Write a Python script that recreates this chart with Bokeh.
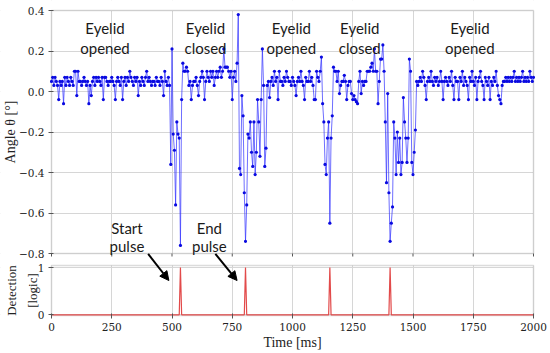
import numpy as np
from bokeh.plotting import figure
from bokeh.models import Range1d, FixedTicker, BoxAnnotation, Arrow, NormalHead, Label
from bokeh.core.properties import value
from bokeh.embed import file_html
from bokeh.resources import INLINE

# ---------------- data ----------------
time_ms = list(range(0, 2001, 5))
angle_deg = [
    0.05, 0.07, 0.03, 0.07, 0.05, 0.03, -0.04, 0.05, 0.03, 0.05, -0.06, 0.07, 0.03, 0.07, 0.05, 0.03, 0.07, 0.05, 0.03, 0.1,
    0.1, -0.02, 0.1, 0.05, 0.05, 0.03, 0.05, 0.07, 0.05, 0.03, 0.05, -0.06, 0.03, -0.02, 0.05, 0.07, 0.03, 0.07, 0.05, 0.07,
    0.05, 0.03, 0.07, -0.04, 0.07, 0.07, 0.05, 0.03, 0.05, 0.05, 0.07, 0.05, 0.03, -0.04, 0.05, 0.07, 0.05, 0.03, 0.07, -0.04,
    0.05, 0.07, 0.03, 0.07, 0.05, 0.1, 0.07, 0.05, 0.03, 0.07, 0.05, 0.07, -0.02, 0.05, 0.03, 0.07, 0.05, 0.03, 0.07, 0.1,
    0.05, 0.07, 0.05, 0.03, 0.05, 0.05, 0.03, 0.07, 0.05, 0.05, 0.03, 0.07, 0.05, -0.02, 0.1, 0.05, 0.03, 0.07, 0.03, -0.36,
    0.21, -0.21, -0.29, -0.56, -0.15, -0.21, -0.23, -0.76, -0.04, 0.14, 0.1, 0.1, 0.12, 0.1, 0.03, 0.05, -0.04, 0.03, 0.05, 0.05,
    0.07, 0.03, -0.02, 0.05, 0.07, 0.1, 0.07, -0.04, 0.05, 0.1, 0.07, 0.05, 0.1, 0.07, 0.1, 0.03, 0.07, 0.1, 0.07, 0.1,
    0.12, 0.07, 0.1, 0.21, 0.12, 0.12, 0.12, 0.1, 0.07, 0.1, -0.04, 0.07, 0.1, 0.05, 0.14, 0.38, -0.38, -0.41, -0.02, -0.12,
    -0.5, -0.74, -0.56, -0.21, -0.23, -0.15, -0.3, -0.37, -0.15, -0.41, -0.3, -0.04, -0.15, -0.32, -0.04, 0.21, 0.03, -0.37, -0.28, 0.03,
    0.05, -0.03, 0.05, 0.07, 0.03, 0.1, 0.05, 0.07, -0.04, 0.1, 0.05, 0.05, 0.03, 0.07, 0.05, 0.1, 0.07, 0.05, 0.05, 0.03,
    0.07, 0.05, 0.03, -0.02, 0.05, 0.07, 0.05, 0.1, 0.05, 0.03, -0.04, 0.07, 0.05, 0.05, 0.1, 0.05, 0.07, 0.03, -0.04, -0.04,
    0.1, 0.07, 0.05, 0.1, 0.17, -0.06, -0.15, -0.36, -0.41, -0.23, -0.15, -0.65, -0.23, -0.12, 0.12, 0.1, 0.1, 0.05, 0.1, -0.01,
    0.03, 0.05, 0.05, 0.08, 0.05, -0.04, 0.03, 0.05, 0.05, -0.01, -0.04, -0.02, -0.04, -0.05, -0.06, 0.05, 0.1, -0.01, 0.05, 0.03,
    0.05, 0.05, 0.1, 0.1, 0.1, 0.12, 0.14, 0.1, 0.21, 0.1, 0.1, -0.06, 0.05, 0.16, 0.16, 0.23, 0.1, -0.15, -0.45, -0.01,
    -0.5, -0.74, -0.65, -0.57, -0.15, -0.23, -0.41, -0.2, -0.35, -0.23, -0.41, -0.35, -0.03, -0.15, -0.23, -0.35, -0.23, 0.16, 0.1, -0.35,
    -0.41, -0.3, -0.19, 0.05, 0.03, 0.05, 0.07, 0.05, 0.1, 0.07, 0.03, -0.04, 0.05, 0.07, 0.05, 0.1, 0.05, 0.03, 0.07, 0.05,
    0.07, 0.03, 0.05, 0.1, 0.05, -0.04, 0.05, 0.07, 0.05, 0.03, 0.07, 0.05, 0.1, 0.03, -0.04, 0.07, 0.05, 0.05, -0.04, 0.07,
    0.05, 0.1, 0.03, 0.07, 0.05, 0.03, -0.04, 0.07, 0.05, 0.1, 0.05, 0.03, 0.07, -0.04, 0.05, 0.07, 0.1, 0.05, 0.03, -0.04,
    0.07, 0.05, 0.03, 0.07, -0.04, 0.05, 0.03, 0.07, 0.05, 0.1, 0.03, -0.02, -0.04, -0.06, 0.03, 0.05, 0.05, 0.07, 0.05, 0.07,
    0.05, 0.07, 0.05, 0.07, 0.1, 0.05, 0.07, 0.05, 0.07, 0.05, 0.07, 0.1, 0.05, 0.07, 0.05, 0.07, 0.05, 0.1, 0.07, 0.05,
    0.07,
]
assert len(angle_deg) == len(time_ms)

pulse_times = [535, 805, 1155, 1405]
detection = [1 if t in pulse_times else 0 for t in time_ms]

x_ticks = [0, 250, 500, 750, 1000, 1250, 1500, 1750, 2000]
angle_ticks = [-0.8, -0.6, -0.4, -0.2, 0.0, 0.2, 0.4]
angle_tick_labels = ["\u22120.8", "\u22120.6", "\u22120.4", "\u22120.2", "0.0", "0.2", "0.4"]
det_ticks = [0, 1]
det_tick_labels = ["0", "1"]

region_x = [222, 639, 995, 1279, 1736]
region_line1 = ["Eyelid", "Eyelid", "Eyelid", "Eyelid", "Eyelid"]
region_line2 = ["opened", "closed", "opened", "closed", "opened"]

pulse_label_x = [313, 655]
pulse_label_line1 = ["Start", "End"]
pulse_label_line2 = ["pulse", "pulse"]

# ---------------- layout: the frame covers the canvas, panels are drawn inside it ----------------
W, H = 550, 353
T0, T1 = 0, 2000                  # time span of both panels
PX_LEFT, PX_RIGHT = 51, 533       # panel edges in pixels
PX_TOP = 10                       # top of the upper panel
PX_PER_UNIT = 202.5               # angle scale (pixels per degree)

ms_per_px = (T1 - T0) / (PX_RIGHT - PX_LEFT)
X_START = T0 - PX_LEFT * ms_per_px
X_END = T1 + (W - PX_RIGHT) * ms_per_px
A_TOP, A_BOTTOM = 0.4, -0.8       # upper panel limits


def v_at(px):
    return A_TOP - (px - PX_TOP) / PX_PER_UNIT


def t_at(px):
    return T0 + (px - PX_LEFT) * ms_per_px


Y_END = v_at(0)
Y_START = v_at(H)
GAP_BOTTOM = v_at(265)            # top of the lower panel
LOW_BOTTOM = v_at(315)            # bottom of the lower panel
DET0_MAIN = v_at(314.3)
DET1_MAIN = v_at(267)


def det_to_main(d):
    return DET0_MAIN + d * (DET1_MAIN - DET0_MAIN)


det_start = (Y_START - DET0_MAIN) / (DET1_MAIN - DET0_MAIN)
det_end = (Y_END - DET0_MAIN) / (DET1_MAIN - DET0_MAIN)

p = figure(width=W, height=H, output_backend="svg", toolbar_location=None,
           x_range=Range1d(X_START, X_END), y_range=Range1d(Y_START, Y_END),
           min_border=0, min_border_left=0, min_border_right=0, min_border_top=0, min_border_bottom=0)
p.extra_y_ranges = {"det": Range1d(det_start, det_end)}
p.outline_line_color = None
p.background_fill_color = "white"
p.border_fill_color = "white"

grid_color = "#d6d6d6"
p.xgrid.grid_line_color = grid_color
p.ygrid.grid_line_color = grid_color

# white margins / gap (hide grid lines outside the two panels)
white = dict(fill_color="white", fill_alpha=1.0, line_alpha=0, level="underlay")
p.add_layout(BoxAnnotation(right=T0, **white))
p.add_layout(BoxAnnotation(left=T1, **white))
p.add_layout(BoxAnnotation(bottom=A_TOP, **white))
p.add_layout(BoxAnnotation(bottom=GAP_BOTTOM, top=A_BOTTOM, **white))
p.add_layout(BoxAnnotation(top=LOW_BOTTOM, **white))

# panel frames
frame_color = "#8a8a8a"
p.add_layout(BoxAnnotation(left=T0, right=T1, bottom=A_BOTTOM, top=A_TOP, fill_alpha=0,
                           line_color=frame_color, line_width=1.5, level="underlay"))
p.add_layout(BoxAnnotation(left=T0, right=T1, bottom=LOW_BOTTOM, top=GAP_BOTTOM, fill_alpha=0,
                           line_color=frame_color, line_width=1.5, level="underlay"))

# ticks under the upper panel
p.segment(x0=x_ticks, y0=A_BOTTOM, x1=x_ticks, y1=A_BOTTOM - 3 / PX_PER_UNIT,
          line_color="#555555", line_width=1)

# angle series
p.line(time_ms, angle_deg, line_color="#3030ff", line_alpha=0.7, line_width=1)
p.scatter(time_ms, angle_deg, size=3.2, fill_color="#0a0ae0", line_color="#0a0ae0", line_width=0)

# detection series
p.line(time_ms, detection, y_range_name="det", line_color="#e24a4a", line_width=1.2)

# axes, fixed on the panel edges
yt = angle_ticks + [det_to_main(d) for d in det_ticks]
overrides = {}
for v, lab in zip(angle_ticks, angle_tick_labels):
    overrides[v] = lab
for d, lab in zip(det_ticks, det_tick_labels):
    overrides[det_to_main(d)] = lab

tick_font = "DejaVu Serif"
ya = p.yaxis[0]
ya.fixed_location = T0
ya.ticker = FixedTicker(ticks=yt, minor_ticks=[])
ya.major_label_overrides = overrides
ya.axis_line_color = None
ya.major_tick_out = 3
ya.major_tick_in = 2
ya.major_tick_line_color = "#555555"
ya.major_label_text_font = tick_font
ya.major_label_text_font_size = "10.5px"
ya.major_label_text_color = "#222222"
ya.major_label_standoff = 4

xa = p.xaxis[0]
xa.fixed_location = LOW_BOTTOM
xa.ticker = FixedTicker(ticks=x_ticks, minor_ticks=[])
xa.axis_line_color = None
xa.major_tick_out = 3
xa.major_tick_in = 2
xa.major_tick_line_color = "#555555"
xa.major_label_text_font = tick_font
xa.major_label_text_font_size = "10.5px"
xa.major_label_text_color = "#222222"
xa.major_label_standoff = 4

# axis titles
lab_font = "Liberation Serif"
lab_style = dict(text_font=lab_font, text_color="#222222", text_align="center", text_baseline="middle")
p.add_layout(Label(x=(T0 + T1) / 2, y=v_at(342), text="Time [ms]", text_font_size="14px", **lab_style))
p.add_layout(Label(x=t_at(10), y=(A_TOP + A_BOTTOM) / 2, text="Angle \u03b8 [\u00b0]",
                   angle=np.pi / 2, text_font_size="14px", **lab_style))
p.add_layout(Label(x=t_at(11), y=(GAP_BOTTOM + LOW_BOTTOM) / 2, text="Detection",
                   angle=np.pi / 2, text_font_size="13px", **lab_style))
p.add_layout(Label(x=t_at(32), y=(GAP_BOTTOM + LOW_BOTTOM) / 2, text="[logic]",
                   angle=np.pi / 2, text_font_size="13px", **lab_style))

# region annotations
ann_font = value("Lato")
p.text(x=region_x, y=0.316, text=region_line1, text_font=ann_font, text_font_size="15px",
       text_align="center", text_baseline="alphabetic", text_color="#1a1a1a")
p.text(x=region_x, y=0.217, text=region_line2, text_font=ann_font, text_font_size="15px",
       text_align="center", text_baseline="alphabetic", text_color="#1a1a1a")
p.text(x=pulse_label_x, y=-0.673, text=pulse_label_line1, text_font=ann_font, text_font_size="15px",
       text_align="center", text_baseline="alphabetic", text_color="#1a1a1a")
p.text(x=pulse_label_x, y=-0.765, text=pulse_label_line2, text_font=ann_font, text_font_size="15px",
       text_align="center", text_baseline="alphabetic", text_color="#1a1a1a")

# arrows to the pulses
for xs, xe in [(401, 487), (680, 770)]:
    p.add_layout(Arrow(end=NormalHead(size=9, fill_color="black", line_color="black"),
                       x_start=xs, y_start=A_BOTTOM - 0.002, x_end=xe, y_end=det_to_main(0.725),
                       line_color="black", line_width=2))

open("out.html", "w").write(file_html(p, INLINE))
